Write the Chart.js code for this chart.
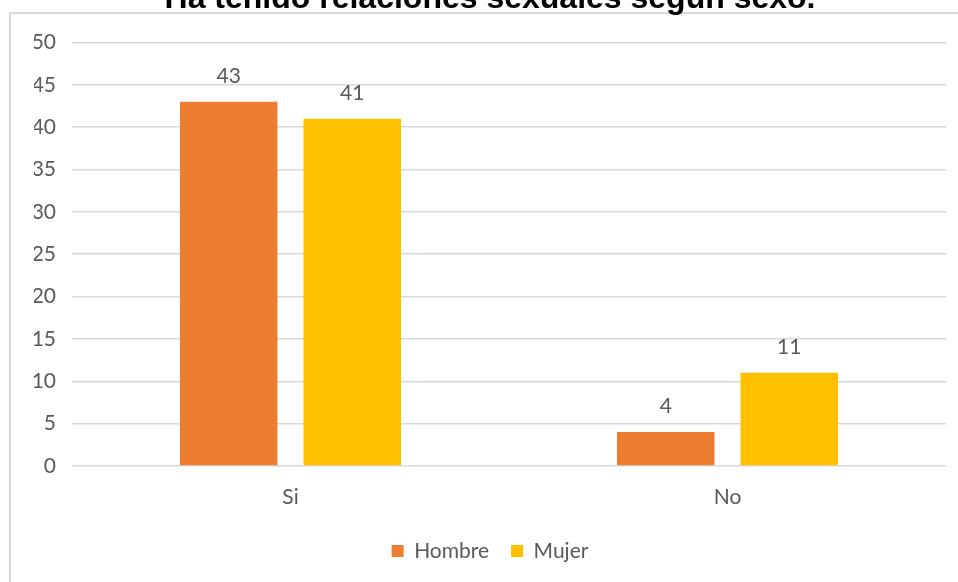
<!DOCTYPE html>
<html>
<head>
<meta charset="utf-8">
<script src="https://cdn.jsdelivr.net/npm/chart.js@4"></script>
<style>
  html, body { margin: 0; padding: 0; background: #ffffff; overflow: hidden; width: 958px; height: 582px; }
  #wrap { position: absolute; left: 0; top: -40px; width: 958px; height: 622px; }
</style>
</head>
<body>
<div id="wrap"><canvas id="c"></canvas></div>
<script>
const titleText = 'Ha tenido relaciones sexuales según sexo.';
const categories = ['Si', 'No'];
const seriesNames = ['Hombre', 'Mujer'];
const hombreValues = [43, 4];
const mujerValues = [41, 11];
const seriesColors = ['#ED7D31', '#FFC000'];
const yMin = 0, yMax = 50, yStep = 5;

const textColor = '#595959';
const gridColor = '#D9D9D9';
const baseFont = 'Lato';
const fontSize = 21;

const frame = {
  id: 'frame',
  beforeDraw(chart) {
    const ctx = chart.ctx;
    ctx.save();
    ctx.fillStyle = '#D9D9D9';
    ctx.fillRect(9, 52, 2, 700);
    ctx.fillRect(9, 52, 1000, 2);
    ctx.restore();
  }
};

const valueLabels = {
  id: 'valueLabels',
  afterDatasetsDraw(chart) {
    const ctx = chart.ctx;
    ctx.save();
    ctx.font = fontSize + 'px ' + baseFont;
    ctx.fillStyle = textColor;
    ctx.textAlign = 'center';
    ctx.textBaseline = 'alphabetic';
    chart.data.datasets.forEach((ds, i) => {
      chart.getDatasetMeta(i).data.forEach((bar, j) => {
        ctx.fillText(String(ds.data[j]), bar.x, bar.y - 19);
      });
    });
    ctx.restore();
  }
};

new Chart(document.getElementById('c'), {
  type: 'bar',
  data: {
    labels: categories,
    datasets: [
      { label: seriesNames[0], data: hombreValues, backgroundColor: seriesColors[0] },
      { label: seriesNames[1], data: mujerValues, backgroundColor: seriesColors[1] }
    ]
  },
  options: {
    responsive: true,
    maintainAspectRatio: false,
    animation: false,
    devicePixelRatio: 1,
    categoryPercentage: 0.5655,
    barPercentage: 0.789,
    layout: { padding: { left: 34, right: 12, top: 0, bottom: 10.5 } },
    plugins: {
      title: {
        display: true,
        text: titleText,
        color: '#000000',
        font: { family: 'Liberation Sans', size: 32, weight: 'bold' },
        padding: { top: 20, bottom: 24 }
      },
      legend: {
        position: 'bottom',
        labels: {
          boxWidth: 12,
          boxHeight: 12,
          padding: 22,
          color: textColor,
          font: { family: baseFont, size: fontSize }
        }
      },
      tooltip: { enabled: false }
    },
    scales: {
      x: {
        grid: { display: false, drawTicks: false },
        border: { display: false },
        ticks: { color: textColor, font: { family: baseFont, size: fontSize }, padding: 18.4 },
        afterFit(axis) { axis.height = 52.5; }
      },
      y: {
        min: yMin,
        max: yMax,
        grid: { color: gridColor, lineWidth: 1.5, drawTicks: false },
        border: { display: false },
        ticks: { stepSize: yStep, color: textColor, font: { family: baseFont, size: fontSize }, padding: 16 },
        afterFit(axis) { axis.width = 38; }
      }
    }
  },
  plugins: [frame, valueLabels]
});
</script>
</body>
</html>
